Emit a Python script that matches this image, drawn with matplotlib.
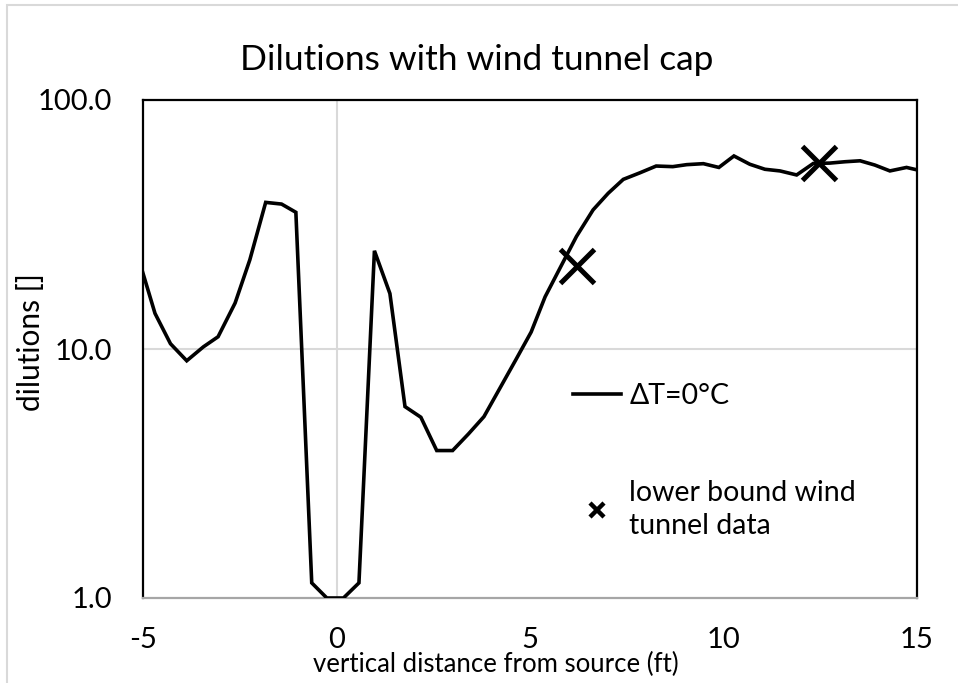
import matplotlib
matplotlib.use("Agg")
import matplotlib.pyplot as plt
from matplotlib.lines import Line2D
from matplotlib.patches import Rectangle
from matplotlib.ticker import FixedLocator, FixedFormatter

plt.rcParams['font.family'] = ['Lato', 'DejaVu Sans']
plt.rcParams['axes.unicode_minus'] = False

# CFD profile, dT = 0 C
x_ft = [-5.10, -4.69, -4.29, -3.87, -3.44, -3.06, -2.62, -2.24, -1.83, -1.42,
        -1.05, -0.64, -0.25, 0.18, 0.58, 0.98, 1.38, 1.77, 2.18, 2.59,
        3.00, 3.41, 3.81, 4.22, 4.63, 5.03, 5.39, 5.80, 6.20, 6.63,
        7.02, 7.41, 7.84, 8.26, 8.69, 9.05, 9.48, 9.88, 10.27, 10.68,
        11.07, 11.46, 11.89, 12.32, 12.75, 13.14, 13.53, 13.91, 14.30, 14.73,
        15.14]
dilution = [22.7, 13.9, 10.5, 8.97, 10.2, 11.2, 15.3, 22.8, 38.8, 38.2,
            35.4, 1.15, 1.0, 1.0, 1.15, 24.8, 16.7, 5.87, 5.32, 3.91,
            3.91, 4.56, 5.35, 6.95, 9.03, 11.7, 16.2, 21.5, 28.3, 36.2,
            42.2, 48.0, 51.0, 54.3, 54.0, 55.0, 55.5, 53.6, 59.6, 55.2,
            52.7, 51.9, 50.0, 55.6, 55.8, 56.5, 57.0, 54.8, 51.9, 53.6,
            51.8]

# wind tunnel lower bounds
wt_x = [6.22, 12.46]
wt_dilution = [21.6, 56.0]

xticks = [-5, 0, 5, 10, 15]
xtick_labels = ["-5", "0", "5", "10", "15"]
yticks = [1, 10, 100]
ytick_labels = ["1.0", "10.0", "100.0"]

W, H = 958, 683
fig = plt.figure(figsize=(W / 100, H / 100), dpi=100)
ax = fig.add_axes([143 / W, 1 - 598 / H, (917 - 143) / W, (598 - 100) / H])

# outer chart border (only top/left fall inside the image)
fig.patches.append(Rectangle((7 / W, -0.1), 1.2, 1.1 - 5 / H, transform=fig.transFigure,
                             fill=False, ec="#d9d9d9", lw=1.5))

ax.plot(x_ft, dilution, color="black", lw=2.6, solid_joinstyle="miter", zorder=3)
ax.plot(wt_x, wt_dilution, ls="none", marker="x", ms=24, mew=3.6, color="black", zorder=4)

ax.set_yscale("log")
ax.set_xlim(-5, 15)
ax.set_ylim(1, 100)
ax.yaxis.set_major_locator(FixedLocator(yticks))
ax.yaxis.set_major_formatter(FixedFormatter(ytick_labels))
ax.yaxis.set_minor_locator(FixedLocator([]))
ax.xaxis.set_major_locator(FixedLocator(xticks))
ax.xaxis.set_major_formatter(FixedFormatter(xtick_labels))
ax.tick_params(length=0, labelsize=21, colors="black")
ax.tick_params(axis="y", pad=22)
ax.tick_params(axis="x", pad=21)

# gridline at 10 and the value axis crossing at x = 0
ax.axhline(10, color="#d9d9d9", lw=1.5, zorder=1)
ax.axvline(0, color="#d9d9d9", lw=1.5, zorder=1)

for side in ["left", "right", "top"]:
    ax.spines[side].set_color("black")
    ax.spines[side].set_linewidth(1.6)
ax.spines["bottom"].set_color("#a6a6a6")
ax.spines["bottom"].set_linewidth(1.6)

ax.set_xlabel("vertical distance from source (ft)", fontsize=18.5)
ax.xaxis.set_label_coords((496 - 143) / 774, -(664 - 598) / 498)
ax.xaxis.label.set_va("center")
ax.set_ylabel("dilutions []", fontsize=21.5)
ax.yaxis.set_label_coords((31 - 143) / 774, (598 - 342) / 498)
ax.yaxis.label.set_va("center")

fig.text(477 / W, 1 - 60 / H, "Dilutions with wind tunnel cap", ha="center", va="center",
         fontsize=25.5)

handles = [Line2D([], [], color="black", lw=2.6),
           Line2D([], [], ls="none", marker="x", ms=10, mew=3.2, color="black")]
labels = ["ΔT=0°C", "lower bound wind\ntunnel data"]
leg = ax.legend(handles, labels, loc="upper left",
                bbox_to_anchor=((573 - 143) / 774, (598 - 383) / 498),
                frameon=False, fontsize=20.5, handlelength=1.7, handletextpad=0.28,
                labelspacing=2.5, borderpad=0, borderaxespad=0)
for t in leg.get_texts():
    t.set_linespacing(1.32)

fig.savefig("out.png", dpi=100)
